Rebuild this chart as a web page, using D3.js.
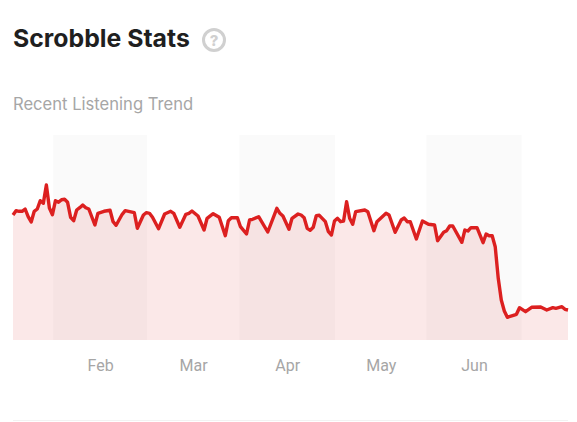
<!DOCTYPE html>
<html lang="en">

<head>
    <meta charset="UTF-8">
    <script src="https://d3js.org/d3.v7.min.js"></script>
    <title>Scrobble Stats</title>
    <style>
        html, body { margin: 0; padding: 0; background: #fff; overflow: hidden; }
        svg { display: block; }
    </style>
</head>

<body>
    <script>
        // values, day number since the start of the chart
        var days = [0, 1, 2, 3, 4, 5, 6, 7, 8, 9, 10, 11, 12, 13, 14, 15, 16, 17, 18, 19, 20, 21, 22, 23, 24, 25, 27, 28, 30, 32, 33, 34, 36, 37, 40, 41, 43, 44, 45, 46, 48, 50, 52, 53, 55, 57, 58, 59, 61, 63, 64, 66, 68, 70, 71, 72, 74, 75, 77, 78, 79, 81, 84, 87, 88, 89, 91, 92, 94, 95, 96, 97, 98, 99, 100, 101, 103, 104, 105, 106, 107, 108, 109, 110, 111, 112, 113, 116, 117, 119, 120, 123, 124, 126, 128, 129, 130, 131, 133, 135, 137, 139, 140, 142, 143, 144, 145, 148, 149, 150, 151, 153, 155, 156, 157, 158, 159, 160, 161, 162, 163, 165, 166, 167, 169, 171, 174, 176, 178, 179, 181, 182, 183];
        var scrobbles = [125, 129.3, 128.7, 128.7, 131, 123.3, 118, 128.7, 131, 139.3, 136.7, 155, 132, 125.3, 139.3, 137.7, 140.3, 140.7, 137.7, 122.7, 119.3, 130, 132.3, 135, 132.3, 131, 115, 126.7, 128.7, 129.7, 118.3, 114.7, 125.7, 129.3, 127.3, 111.7, 125, 127.3, 126.7, 122.7, 111.3, 126, 128.7, 126.7, 112.7, 125.7, 126.7, 129, 124, 110, 121.7, 126.3, 122.7, 104.3, 119.3, 122.3, 122.3, 113.3, 106, 120, 120.7, 123.3, 108, 131.7, 126.7, 124, 110.7, 121.7, 126, 125, 122.3, 111.7, 109.7, 112.7, 124.3, 124.7, 118.3, 108.3, 105, 119, 121.7, 118.3, 119, 138.3, 121.7, 115.7, 128.3, 130, 128.3, 109.3, 118.3, 126.7, 125, 107.7, 120, 122, 118.3, 118.3, 101, 119, 115.7, 115, 99.3, 107.7, 109.3, 114, 114, 97.7, 110, 109, 112.3, 112.3, 97.3, 106, 104.3, 104.3, 93.3, 61.7, 40, 29, 22.7, 24.7, 25.7, 32.3, 28.3, 32.7, 33, 30, 32.3, 31.7, 33.3, 30.7, 30];
        var months = ["Feb", "Mar", "Apr", "May", "Jun"];
        var monthEdges = [13.2, 44.2, 74.6, 106.2, 136.3, 167.7]; // day numbers of the month boundaries

        var width = 577,
            height = 422,
            margin = { top: 135, right: 9, bottom: 82, left: 13 };

        var svg = d3.select("body").append("svg")
            .attr("width", width)
            .attr("height", height);

        var x = d3.scaleLinear()
            .domain([0, 183])
            .range([margin.left, width - margin.right]);

        var y = d3.scaleLinear()
            .domain([0, 205])
            .range([height - margin.bottom, margin.top]);

        var points = days.map(function (d, i) { return [d, scrobbles[i]]; });

        // title
        svg.append("text")
            .attr("x", 13)
            .attr("y", 47)
            .attr("font-family", "Inter, sans-serif")
            .attr("font-weight", 700)
            .attr("font-size", 24.8)
            .attr("fill", "#1f1f1f")
            .text("Scrobble Stats");

        // help icon
        var help = svg.append("g").attr("transform", "translate(214,40)");
        help.append("circle")
            .attr("r", 10.5)
            .attr("fill", "none")
            .attr("stroke", "#d0d0d0")
            .attr("stroke-width", 3);
        help.append("text")
            .attr("text-anchor", "middle")
            .attr("y", 5.5)
            .attr("font-family", "Inter, sans-serif")
            .attr("font-weight", 800)
            .attr("font-size", 15)
            .attr("fill", "#d0d0d0")
            .text("?");

        svg.append("text")
            .attr("x", 13)
            .attr("y", 110)
            .attr("font-family", "Inter, sans-serif")
            .attr("font-size", 16.6)
            .attr("fill", "#a6a6a6")
            .text("Recent Listening Trend");

        // alternate month shading
        svg.append("g").selectAll("rect")
            .data(months.filter(function (m, i) { return i % 2 === 0; }))
            .enter().append("rect")
            .attr("x", function (m) { return x(monthEdges[months.indexOf(m)]); })
            .attr("width", function (m) { var i = months.indexOf(m); return x(monthEdges[i + 1]) - x(monthEdges[i]); })
            .attr("y", y(205))
            .attr("height", y(0) - y(205))
            .attr("fill", "#000")
            .attr("fill-opacity", 0.02);

        var area = d3.area()
            .x(function (d) { return x(d[0]); })
            .y0(y(0))
            .y1(function (d) { return y(d[1]); });

        var line = d3.line()
            .x(function (d) { return x(d[0]); })
            .y(function (d) { return y(d[1]); });

        svg.append("path")
            .attr("d", area(points))
            .attr("fill", "#dc2020")
            .attr("fill-opacity", 0.1);

        svg.append("path")
            .attr("d", line(points))
            .attr("fill", "none")
            .attr("stroke", "#dc2020")
            .attr("stroke-width", 3.4)
            .attr("stroke-linejoin", "round");

        // month labels sit in the middle of each month
        var mids = months.map(function (m, i) { return (monthEdges[i] + monthEdges[i + 1]) / 2; });
        var xAxis = d3.axisBottom(x)
            .tickValues(mids)
            .tickSize(0)
            .tickPadding(20)
            .tickFormat(function (d, i) { return months[i]; });

        var axisG = svg.append("g")
            .attr("transform", "translate(0," + y(0) + ")")
            .call(xAxis);
        axisG.select(".domain").remove();
        axisG.selectAll("text")
            .attr("font-family", "Roboto, sans-serif")
            .attr("font-size", 16)
            .attr("fill", "#a6a6a6");

        // divider at the bottom
        svg.append("line")
            .attr("x1", 13)
            .attr("x2", 568)
            .attr("y1", 420.5)
            .attr("y2", 420.5)
            .attr("stroke", "#f2f2f2");
    </script>
</body>

</html>
